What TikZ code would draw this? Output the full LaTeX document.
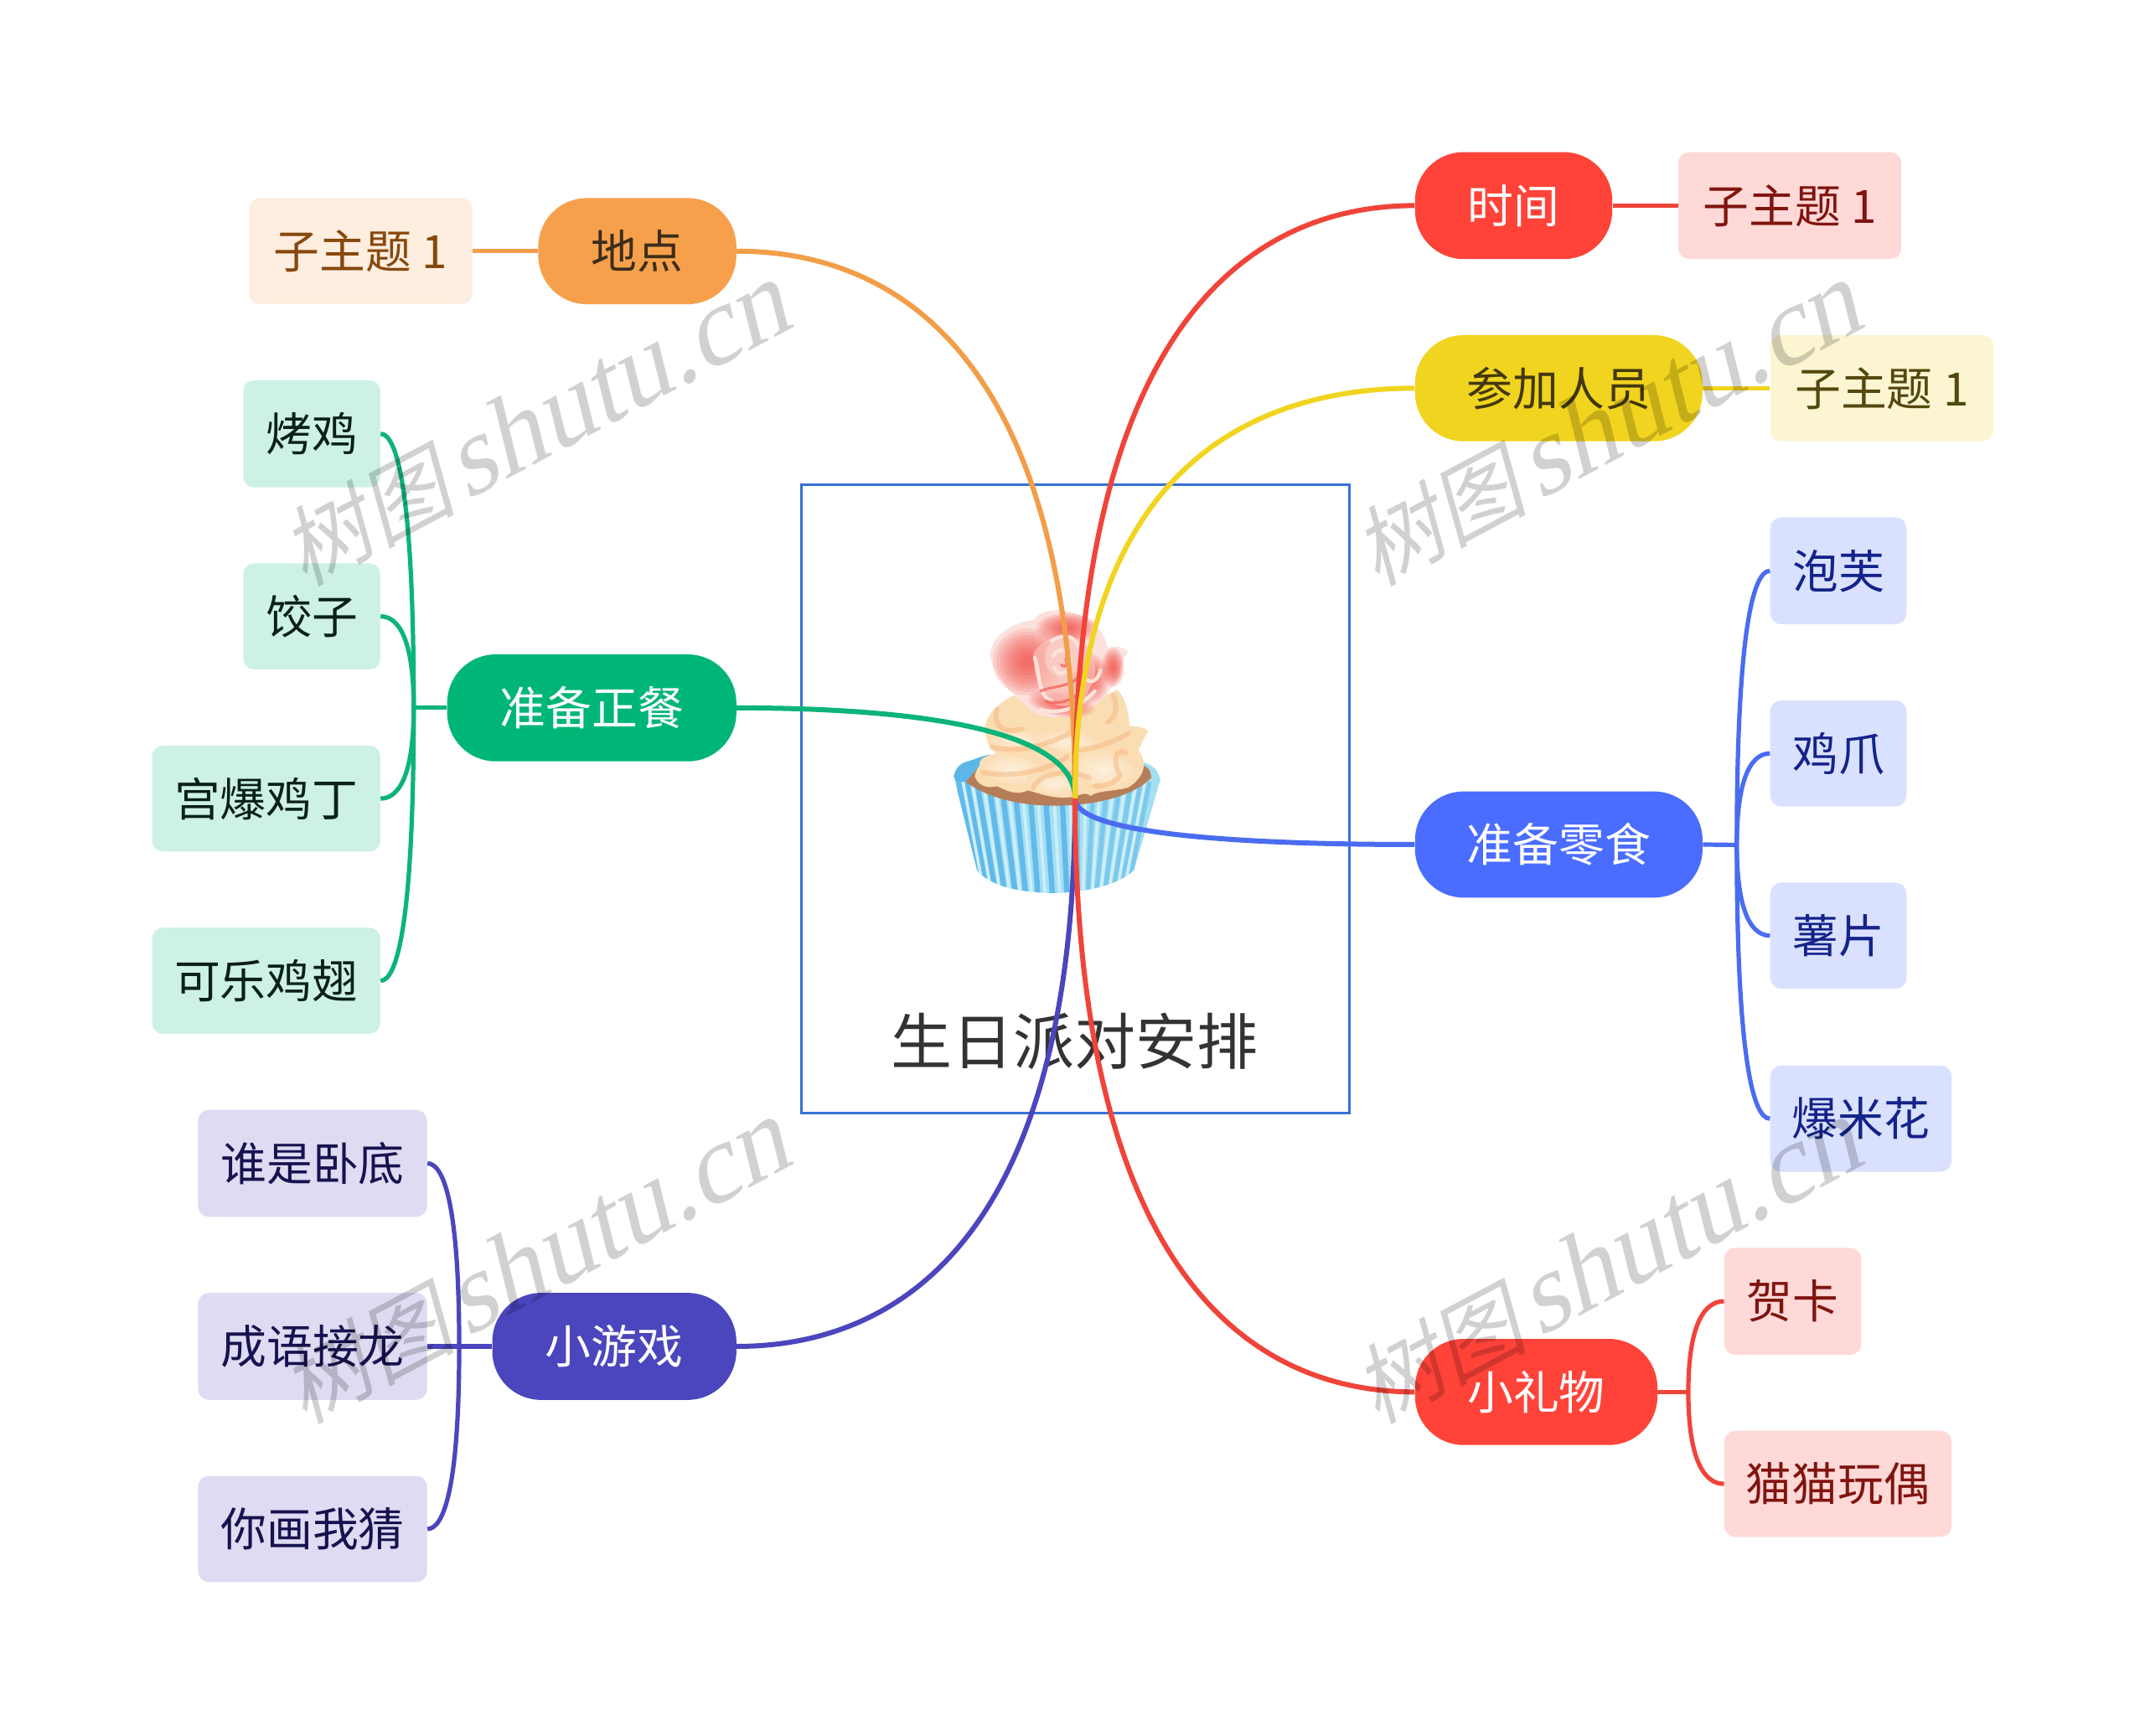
\documentclass[tikz,border=0pt]{standalone}
\usepackage{fontspec}
\usetikzlibrary{calc}
\setmainfont{Noto Sans CJK SC}
\newfontfamily\wmcjk[FakeSlant=0.22]{Noto Sans CJK SC}
\newfontfamily\wmlat[FakeSlant=0.25]{Liberation Serif}
\newcommand{\boxnode}[7]{\node[#2, minimum width={(#4-#3)*0.49875}, minimum height={(#6-#5)*0.49875}] (#1) at ({(#3+#4)/2},{(#5+#6)/2}) {#7};}
\newcommand{\linkto}[4][link]{\draw[#1,draw=#4] (#2) .. controls ($(#2)!.5!(#3 |- #2)$) and ($(#3 |- #2)!.215!(#3)$) .. (#3);}
\newcommand{\lobe}[5]{\shade[inner color=creamA,outer color=creamB,rotate around={#5:(#1,#2)}] (#1,#2) ellipse (#3 and #4);}
\newcommand{\blotch}[6]{\foreach \k in {1,.9,.8,.7,.6,.5,.4,.3,.2}{\fill[color=#6,opacity=.13,rotate around={#5:(#1,#2)}] (#1,#2) ellipse ({#3*\k} and {#4*\k});}}
\definecolor{corange}{HTML}{F7A04C}\definecolor{lorange}{HTML}{FDEEDF}\definecolor{korange}{HTML}{F29E49}
\definecolor{cred}{HTML}{FF4339}\definecolor{lred}{HTML}{FFD9D7}\definecolor{kred}{HTML}{F0443A}
\definecolor{cyellow}{HTML}{F1D41F}\definecolor{lyellow}{HTML}{FBF5D2}
\definecolor{cblue}{HTML}{4A6CFF}\definecolor{lblue}{HTML}{DAE1FE}\definecolor{kblue}{HTML}{4A6CF0}
\definecolor{cgreen}{HTML}{00B676}\definecolor{lgreen}{HTML}{CDF2E3}\definecolor{kgreen}{HTML}{0DB47A}
\definecolor{cindigo}{HTML}{4B46BD}\definecolor{lindigo}{HTML}{DEDBF2}
\definecolor{tred}{HTML}{80140F}\definecolor{tblue}{HTML}{14238A}\definecolor{tgreen}{HTML}{0A2018}
\definecolor{tindigo}{HTML}{17124F}\definecolor{torange}{HTML}{87480E}\definecolor{tyellow}{HTML}{54480E}
\definecolor{creamA}{HTML}{FDF0DC}\definecolor{creamB}{HTML}{FBDDB4}
\definecolor{creamC}{HTML}{F6B67E}
\definecolor{lineA}{HTML}{62BAEA}\definecolor{lineB}{HTML}{CDEEF8}\definecolor{lineC}{HTML}{A4E0F2}
\definecolor{roseR}{HTML}{F4443C}
\tikzset{
 mainbox/.style={rounded corners=29pt,inner sep=0pt,font=\fontsize{27.4}{30}\selectfont,text=white},
 leafbox/.style={rounded corners=6.5pt,inner sep=0pt,font=\fontsize{27.4}{30}\selectfont},
 link/.style={line width=3pt},
 twig/.style={line width=2.6pt},
 wm/.style={rotate=28,anchor=base east,text=black,opacity=.18,inner sep=0pt},
}
\begin{document}
\begin{tikzpicture}[x=0.49875pt,y=-0.49875pt]
\useasboundingbox (0,0) rectangle (2566.4,2076.2);
\fill[white] (0,0) rectangle (2566.4,2076.2);
% title frame
\node[minimum width={654*0.49875},minimum height={751*0.49875},inner sep=0pt] (frame) at (1286.7,955.9) {};
\draw[draw={rgb,255:red,54;green,113;blue,214},line width=1.5pt] (frame.north west) rectangle (frame.south east);
\node[font=\fontsize{36.5}{40}\selectfont,text=black!80] (title) at (1286,1246) {生日派对安排};
% cupcake (units: 3x pixels of its own crop)
\begin{scope}[shift={(1002.5,651.6)},x=0.16667pt,y=-0.16667pt]
 % inner back of the wrapper
 \fill[color={rgb,255:red,92;green,182;blue,232}] (415,830) .. controls (420,800) and (440,780) .. (470,775) .. controls (500,765) and (540,745) .. (572,755) -- (520,850) -- (430,870) -- cycle;
 \fill[color=lineC] (1095,780) .. controls (1130,790) and (1150,810) .. (1155,850) -- (1100,880) -- cycle;
 % wrapper
 \fill[color=lineC] (420,850) -- (1152,850) -- (1060,1165) .. controls (1010,1215) and (900,1245) .. (770,1248) .. controls (640,1245) and (540,1220) .. (498,1165) -- cycle;
 \begin{scope}
  \clip (420,850) -- (1152,850) -- (1060,1165) .. controls (1010,1215) and (900,1245) .. (770,1248) .. controls (640,1245) and (540,1220) .. (498,1165) -- cycle;
  \foreach \a/\b in {432/512,462/535,498/565,540/597,585/635,632/672,685/716,740/768,800/820}{
   \draw[line width=3.2pt,color=lineA] (\a,850) -- (\b,1250);
  }
  \foreach \a/\b in {860/860,915/895,965/925,1010/955,1050/985,1085/1010,1115/1035}{
   \draw[line width=2.8pt,color=lineA!60!lineC] (\a,850) -- (\b,1250);
  }
  \foreach \a/\b in {448/524,480/550,520/581,562/616,608/653,658/694,712/742,770/794,830/840,888/878,940/910,988/940,1030/970,1068/998,1100/1022}{
   \draw[line width=1.8pt,color=lineB] (\a,850) -- (\b,1250);
  }
 \end{scope}
 % cake
 \fill[color={rgb,255:red,182;green,126;blue,88}] (458,850) .. controls (520,895) and (620,935) .. (780,935) .. controls (920,935) and (1060,900) .. (1122,835) .. controls (1120,800) and (1100,790) .. (1085,790) -- (500,800) -- cycle;
 % frosting: base, then tiers of soft lobes
 \fill[color=creamB] (490,830) .. controls (500,770) and (560,760) .. (565,745) .. controls (520,700) and (510,640) .. (560,590) .. controls (610,540) and (650,520) .. (700,560) .. controls (800,610) and (900,570) .. (1000,520) .. controls (1040,560) and (1040,620) .. (1045,650) .. controls (1080,650) and (1110,660) .. (1110,670) .. controls (1090,700) and (1085,720) .. (1075,735) .. controls (1110,780) and (1100,830) .. (1040,870) .. controls (980,885) and (930,880) .. (905,900) .. controls (880,880) and (860,905) .. (830,905) .. controls (760,910) and (720,890) .. (680,880) .. controls (640,900) and (600,880) .. (570,865) .. controls (530,875) and (500,860) .. (490,830) -- cycle;
 \lobe{620}{805}{115}{50}{-12}
 \lobe{775}{855}{100}{40}{-5}
 \lobe{950}{805}{125}{60}{-15}
 \lobe{640}{695}{105}{32}{8}
 \lobe{820}{705}{125}{36}{-10}
 \begin{scope}[line cap=round,opacity=.5,line width=3pt,color=creamC]
  \draw (570,590) .. controls (555,640) and (580,680) .. (660,660);
  \draw (550,725) .. controls (650,750) and (760,715) .. (850,665);
  \draw (520,815) .. controls (620,840) and (760,805) .. (820,760);
  \draw (700,870) .. controls (720,820) and (820,800) .. (900,835);
  \draw (1030,745) .. controls (990,725) and (985,785) .. (1010,825) .. controls (1000,850) and (960,865) .. (920,865);
  \draw (870,735) .. controls (940,725) and (990,705) .. (1040,675);
  \draw (985,540) .. controls (1005,580) and (995,620) .. (965,635);
 \end{scope}
 % rose
 \fill[color={rgb,255:red,251;green,226;blue,222}] (545,400) .. controls (545,330) and (620,280) .. (700,270) .. controls (740,220) and (820,230) .. (880,260) .. controls (940,290) and (960,340) .. (965,370) .. controls (1000,360) and (1030,370) .. (1040,385) .. controls (1010,410) and (1020,480) .. (980,510) .. controls (950,560) and (900,590) .. (860,600) .. controls (800,630) and (720,620) .. (690,590) .. controls (640,550) and (560,480) .. (545,400) -- cycle;
 \blotch{680}{420}{125}{120}{0}{roseR}
 \blotch{820}{300}{110}{55}{0}{roseR}
 \blotch{985}{440}{40}{70}{0}{roseR}
 \blotch{800}{570}{120}{45}{-10}{roseR}
 \blotch{900}{480}{70}{90}{0}{roseR}
 \fill[opacity=.75,color={rgb,255:red,251;green,190;blue,180}] (700,390) .. controls (740,320) and (850,300) .. (905,380) .. controls (945,450) and (910,545) .. (830,575) .. controls (760,595) and (700,520) .. (700,390) -- cycle;
 \fill[opacity=.85,color={rgb,255:red,252;green,206;blue,198}] (745,375) .. controls (780,325) and (850,325) .. (870,385) .. controls (880,440) and (840,480) .. (790,475) .. controls (750,460) and (735,420) .. (745,375) -- cycle;
 \begin{scope}[line width=2.2pt,line cap=round,color={rgb,255:red,253;green,226;blue,220}]
  \draw (765,345) .. controls (825,305) and (875,345) .. (865,405);
  \draw (705,405) .. controls (725,470) and (715,540) .. (765,560);
  \draw (770,400) .. controls (785,365) and (832,372) .. (832,420) .. controls (832,465) and (785,475) .. (775,440);
  \draw (725,590) .. controls (785,610) and (860,590) .. (920,525);
  \draw (885,480) .. controls (905,500) and (930,490) .. (940,450);
 \end{scope}
 \begin{scope}[line width=1.6pt,line cap=round,opacity=.7,color={rgb,255:red,240;green,92;blue,84}]
  \draw (725,525) .. controls (765,505) and (840,515) .. (880,455);
  \draw (800,430) .. controls (815,445) and (825,430) .. (815,410);
  \draw (745,560) .. controls (790,575) and (830,560) .. (860,535);
 \end{scope}
\end{scope}
% coordinates
\coordinate (C) at (1286.2,955.4);
\coordinate (jg) at (495,847);
\coordinate (ji) at (549.4,1611);
\coordinate (jb) at (2078,1011);
\coordinate (jr) at (2020,1665.5);
% nodes
\boxnode{didian}{mainbox,fill=corange,text={rgb,255:red,60;green,45;blue,25}}{644}{881}{237}{364}{地点}
\boxnode{didianA}{leafbox,fill=lorange,text=torange}{298}{565}{237}{364}{子主题 1}
\boxnode{shijian}{mainbox,fill=cred}{1693}{1929}{182}{310}{时间}
\boxnode{shijianA}{leafbox,fill=lred,text=tred}{2008}{2275}{182}{310}{子主题 1}
\boxnode{renyuan}{mainbox,fill=cyellow,text={rgb,255:red,66;green,56;blue,12}}{1693}{2037}{401}{528}{参加人员}
\boxnode{renyuanA}{leafbox,fill=lyellow,text=tyellow}{2118}{2385}{401}{528}{子主题 1}
\boxnode{lingshi}{mainbox,fill=cblue}{1693}{2037}{947}{1074}{准备零食}
\boxnode{paofu}{leafbox,fill=lblue,text=tblue}{2118}{2281}{619}{747}{泡芙}
\boxnode{jizhua}{leafbox,fill=lblue,text=tblue}{2118}{2281}{838}{965}{鸡爪}
\boxnode{shupian}{leafbox,fill=lblue,text=tblue}{2118}{2281}{1056}{1183}{薯片}
\boxnode{baomihua}{leafbox,fill=lblue,text=tblue}{2118}{2335}{1275}{1402}{爆米花}
\boxnode{liwu}{mainbox,fill=cred}{1693}{1983}{1602}{1729}{小礼物}
\boxnode{heka}{leafbox,fill=lred,text=tred}{2063}{2227}{1493}{1621}{贺卡}
\boxnode{maomao}{leafbox,fill=lred,text=tred}{2063}{2335}{1712}{1839}{猫猫玩偶}
\boxnode{zhengcan}{mainbox,fill=cgreen}{535}{881}{783}{911}{准备正餐}
\boxnode{kaoji}{leafbox,fill=lgreen,text=tgreen}{291}{455}{455}{583}{烤鸡}
\boxnode{jiaozi}{leafbox,fill=lgreen,text=tgreen}{291}{455}{674}{801}{饺子}
\boxnode{gongbao}{leafbox,fill=lgreen,text=tgreen}{182}{455}{892}{1019}{宫爆鸡丁}
\boxnode{kele}{leafbox,fill=lgreen,text=tgreen}{182}{455}{1110}{1237}{可乐鸡翅}
\boxnode{youxi}{mainbox,fill=cindigo}{589}{881}{1547}{1675}{小游戏}
\boxnode{woDi}{leafbox,fill=lindigo,text=tindigo}{237}{511}{1328}{1456}{谁是卧底}
\boxnode{chengyu}{leafbox,fill=lindigo,text=tindigo}{237}{511}{1547}{1675}{成语接龙}
\boxnode{huahua}{leafbox,fill=lindigo,text=tindigo}{237}{511}{1766}{1893}{你画我猜}
% main connectors
\linkto{youxi.east}{C}{cindigo}
\linkto{lingshi.west}{C}{kblue}
\linkto{zhengcan.east}{C}{kgreen}
\linkto{didian.east}{C}{korange}
\linkto{shijian.west}{C}{kred}
\linkto{renyuan.west}{C}{cyellow}
\linkto{liwu.west}{C}{kred}
% short links
\draw[twig,draw=korange] (didianA.east) -- (didian.west);
\draw[twig,draw=kred] (shijian.east) -- (shijianA.west);
\draw[twig,draw=cyellow] (renyuan.east) -- (renyuanA.west);
% green branch
\draw[twig,draw=kgreen] (zhengcan.west) -- (jg);
\linkto[twig]{kaoji.east}{jg}{kgreen}
\linkto[twig]{jiaozi.east}{jg}{kgreen}
\linkto[twig]{gongbao.east}{jg}{kgreen}
\linkto[twig]{kele.east}{jg}{kgreen}
% indigo branch
\draw[twig,draw=cindigo] (youxi.west) -- (chengyu.east);
\linkto[twig]{woDi.east}{ji}{cindigo}
\linkto[twig]{huahua.east}{ji}{cindigo}
% blue branch
\draw[twig,draw=kblue] (lingshi.east) -- (jb);
\linkto[twig]{paofu.west}{jb}{kblue}
\linkto[twig]{jizhua.west}{jb}{kblue}
\linkto[twig]{shupian.west}{jb}{kblue}
\linkto[twig]{baomihua.west}{jb}{kblue}
% red branch
\draw[twig,draw=kred] (liwu.east) -- (jr);
\linkto[twig]{heka.west}{jr}{kred}
\linkto[twig]{maomao.west}{jr}{kred}
% watermarks
\foreach \n/\x/\y in {a/952/390,b/2235/390,c/952/1392,d/2235/1392}{
 \node[wm] (wm\n) at (\x,\y) {\fontsize{52}{60}\selectfont\wmcjk 树图\hspace{6pt}\fontsize{66}{72}\selectfont\wmlat shutu.cn};
}
\end{tikzpicture}
\end{document}
